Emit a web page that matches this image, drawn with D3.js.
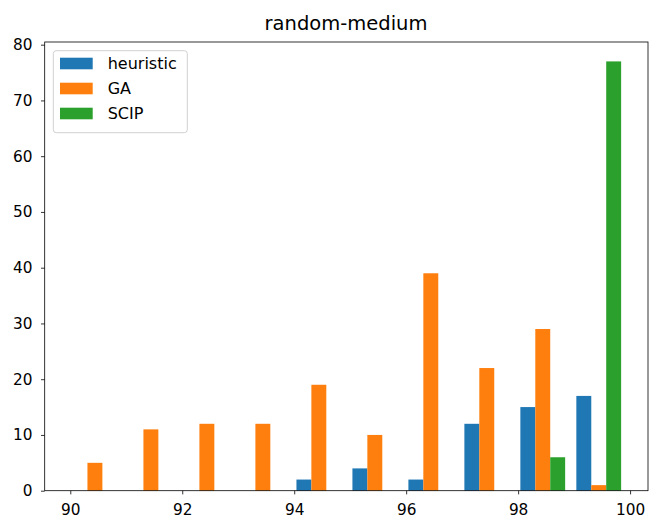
<!DOCTYPE html>
<html>
<head>
<meta charset="utf-8">
<script src="https://cdn.jsdelivr.net/npm/d3@7"></script>
<style>
body { margin: 0; background: #fff; }
text { font-family: "DejaVu Sans", sans-serif; fill: #000; }
</style>
</head>
<body>
<script>
const W = 649, H = 518
const M = { left: 44.7, right: 1, top: 42, bottom: 27.3 }

// histogram counts per bin, bins of width 1 starting at 89.94
const binStart = 89.94
const binWidth = 1
const heuristic = [0, 0, 0, 0, 2, 4, 2, 12, 15, 17]
const ga        = [5, 11, 12, 12, 19, 10, 39, 22, 29, 1]
const scip      = [0, 0, 0, 0, 0, 0, 0, 0, 6, 77]
const seriesNames = ["heuristic", "GA", "SCIP"]
const colors = ["#1f77b4", "#ff7f0e", "#2ca02c"]
const xTicks = [90, 92, 94, 96, 98, 100]
const yTicks = [0, 10, 20, 30, 40, 50, 60, 70, 80]

const series = [heuristic, ga, scip]

var svg = d3.select("body").append("svg")
    .attr("width", W)
    .attr("height", H)

var x = d3.scaleLinear()
    .domain([89.543, 100.32])
    .range([M.left, W - M.right])

var y = d3.scaleLinear()
    .domain([0, 80.48])
    .range([H - M.bottom, M.top])

// bars: matplotlib style, 80% of bin split between the three series
var barW = binWidth * 0.8 / 3
series.forEach(function(vals, s) {
    var pts = vals.map((v, i) => ({ bin: i, v: v })).filter(d => d.v > 0)
    svg.append("g").selectAll("rect")
        .data(pts)
        .join("rect")
        .attr("x", d => x(binStart + d.bin * binWidth + 0.1 * binWidth + s * barW))
        .attr("width", x(barW) - x(0))
        .attr("y", d => y(d.v))
        .attr("height", d => y(0) - y(d.v))
        .attr("fill", colors[s])
})

// axes
svg.append("g")
    .attr("transform", "translate(0," + (H - M.bottom) + ")")
    .call(d3.axisBottom(x).tickValues(xTicks).tickSize(3.7).tickPadding(9.5).tickSizeOuter(0))
svg.append("g")
    .attr("transform", "translate(" + M.left + ",0)")
    .call(d3.axisLeft(y).tickValues(yTicks).tickSize(3.7).tickPadding(8.5).tickSizeOuter(0))

svg.selectAll(".tick text").style("font-size", "15.3px").attr("fill", "#000")
    .style("font-family", "DejaVu Sans, sans-serif")
svg.selectAll(".tick line").attr("stroke", "#000").attr("stroke-width", 0.8)
svg.selectAll(".domain").remove()

// frame
svg.append("rect")
    .attr("x", M.left)
    .attr("y", M.top)
    .attr("width", W - M.right - M.left)
    .attr("height", H - M.bottom - M.top)
    .attr("fill", "none")
    .attr("stroke", "#000")
    .attr("stroke-width", 0.8)

// title
svg.append("text")
    .attr("x", 346)
    .attr("y", 30)
    .attr("text-anchor", "middle")
    .style("font-size", "19.5px")
    .text("random-medium")

// legend
var legend = svg.append("g")
legend.append("rect")
    .attr("x", 53.3)
    .attr("y", 50.7)
    .attr("width", 134)
    .attr("height", 82)
    .attr("rx", 3)
    .attr("fill", "#fff")
    .attr("fill-opacity", 0.8)
    .attr("stroke", "#d0d0d0")
    .attr("stroke-width", 1)

seriesNames.forEach(function(name, i) {
    var cy = 63.5 + i * 25
    legend.append("rect")
        .attr("x", 60)
        .attr("y", cy - 5.8)
        .attr("width", 32.7)
        .attr("height", 11.6)
        .attr("fill", colors[i])
    legend.append("text")
        .attr("x", 107.7)
        .attr("y", cy)
        .attr("dy", "0.36em")
        .style("font-size", "16px")
        .text(name)
})
</script>
</body>
</html>
